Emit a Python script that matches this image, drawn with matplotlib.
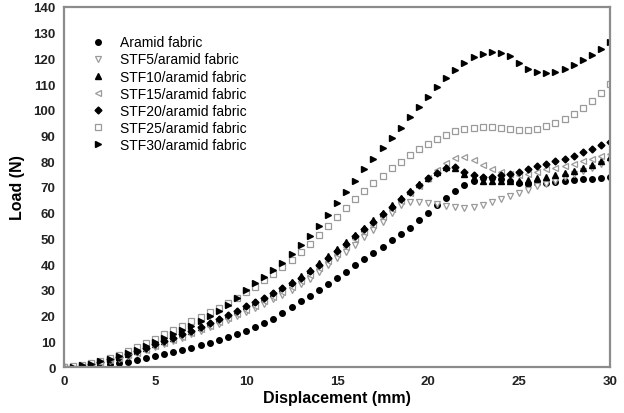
import numpy as np
import matplotlib
matplotlib.use('Agg')
import matplotlib.pyplot as plt

plt.rcParams['font.family'] = ['Liberation Sans', 'DejaVu Sans']

# displacement (mm), one point every 0.5 mm
disp = [i * 0.5 for i in range(61)]

aramid = [0, 0.1, 0.2, 0.4, 0.6, 1.0, 1.5, 2.1, 2.7, 3.4,
          4.1, 4.9, 5.7, 6.6, 7.5, 8.5, 9.5, 10.6, 11.7, 12.9,
          14.1, 15.5, 17.0, 18.8, 21.0, 23.3, 25.6, 27.8, 30.0, 32.3,
          34.6, 37.0, 39.5, 41.9, 44.3, 46.7, 49.2, 51.6, 54.2, 57.0,
          60.0, 63.0, 65.8, 68.5, 70.8, 72.5, 73.5, 73.5, 73.0, 72.2,
          71.4, 71.2, 71.4, 71.7, 72.0, 72.3, 72.6, 72.9, 73.2, 73.5, 73.8]

stf5 = [0, 0.1, 0.4, 0.9, 1.5, 2.4, 3.3, 4.3, 5.4, 6.5,
        7.7, 8.9, 10.1, 11.4, 12.7, 14.1, 15.5, 16.9, 18.4, 19.9,
        21.5, 23.0, 24.6, 26.3, 28.1, 30.0, 32.1, 34.4, 36.9, 39.5,
        42.2, 44.9, 47.6, 50.4, 53.2, 56.5, 60.0, 63.0, 64.0, 64.2,
        63.8, 63.2, 62.6, 62.2, 62.0, 62.3, 63.0, 64.0, 65.2, 66.4,
        67.7, 69.0, 70.2, 71.3, 72.5, 73.7, 75.0, 76.3, 77.5, 78.8, 80.0]

stf10 = [0, 0.2, 0.6, 1.2, 2.0, 3.0, 4.0, 5.1, 6.3, 7.5,
         8.8, 10.1, 11.4, 12.8, 14.2, 15.7, 17.2, 18.7, 20.3, 21.9,
         23.6, 25.2, 26.9, 28.8, 30.8, 32.9, 35.2, 37.7, 40.3, 43.0,
         45.8, 48.5, 51.3, 54.1, 57.0, 59.9, 62.8, 65.7, 68.5, 71.2,
         73.6, 75.8, 77.6, 77.5, 75.0, 73.5, 72.5, 72.2, 72.2, 72.3,
         72.5, 72.8, 73.3, 74.0, 74.7, 75.4, 76.2, 77.3, 78.5, 80.0, 81.5]

stf15 = [0, 0.2, 0.5, 1.0, 1.7, 2.6, 3.5, 4.5, 5.6, 6.8,
         8.0, 9.2, 10.5, 11.8, 13.2, 14.6, 16.0, 17.5, 19.0, 20.6,
         22.2, 23.8, 25.5, 27.3, 29.2, 31.2, 33.4, 35.8, 38.4, 41.1,
         43.9, 46.7, 49.6, 52.5, 55.4, 58.4, 61.3, 64.4, 67.5, 70.5,
         73.5, 76.5, 79.5, 81.3, 81.5, 80.5, 78.5, 77.0, 75.8, 75.0,
         74.8, 75.2, 76.0, 76.8, 77.5, 78.2, 79.0, 80.0, 81.0, 82.0, 83.0]

stf20 = [0, 0.2, 0.6, 1.2, 2.0, 3.0, 4.0, 5.1, 6.3, 7.5,
         8.8, 10.1, 11.4, 12.8, 14.2, 15.7, 17.2, 18.7, 20.3, 21.9,
         23.6, 25.2, 26.9, 28.7, 30.6, 32.6, 34.8, 37.2, 39.8, 42.5,
         45.3, 48.0, 50.8, 53.6, 56.5, 59.4, 62.3, 65.2, 68.0, 70.8,
         73.3, 75.6, 77.5, 77.8, 76.0, 74.5, 74.0, 74.0, 74.5, 75.2,
         76.0, 77.0, 78.0, 79.0, 80.0, 81.0, 82.2, 83.4, 84.8, 86.2, 87.5]

stf25 = [0, 0.3, 0.8, 1.5, 2.4, 3.5, 4.8, 6.2, 7.7, 9.3,
         11.0, 12.7, 14.4, 16.1, 17.8, 19.5, 21.3, 23.1, 25.0, 27.0,
         29.0, 31.3, 33.7, 36.2, 38.8, 41.6, 44.6, 47.8, 51.2, 54.8,
         58.5, 62.0, 65.3, 68.5, 71.5, 74.4, 77.2, 79.8, 82.3, 84.6,
         86.7, 88.6, 90.3, 91.6, 92.6, 93.1, 93.3, 93.2, 92.9, 92.5,
         92.2, 92.2, 92.6, 93.5, 94.8, 96.5, 98.5, 100.8, 103.4, 106.5, 110.0]

stf30 = [0, 0.2, 0.7, 1.3, 2.2, 3.2, 4.3, 5.5, 6.8, 8.2,
         9.6, 11.1, 12.7, 14.3, 16.0, 17.8, 19.8, 21.9, 24.2, 26.8,
         30.0, 32.5, 35.0, 37.7, 40.6, 43.8, 47.3, 51.0, 55.0, 59.2,
         63.6, 68.0, 72.4, 76.8, 81.0, 85.0, 89.0, 93.0, 97.0, 101.0,
         105.0, 108.8, 112.3, 115.5, 118.3, 120.4, 121.8, 122.5, 122.2, 120.8,
         118.3, 115.8, 114.5, 114.3, 114.8, 116.0, 117.5, 119.3, 121.3, 123.7, 126.5]

labels = ['Aramid fabric', 'STF5/aramid fabric', 'STF10/aramid fabric',
          'STF15/aramid fabric', 'STF20/aramid fabric', 'STF25/aramid fabric',
          'STF30/aramid fabric']

fig = plt.figure(figsize=(6.24, 4.14), dpi=100)
ax = fig.add_axes([0.1026, 0.111, 0.875, 0.87])

grey = '#9a9a9a'
ax.plot(disp, aramid, 'o', ms=4, color='black', label=labels[0])
ax.plot(disp, stf5, 'v', ms=4.5, mfc='white', mec=grey, mew=0.9, label=labels[1])
ax.plot(disp, stf10, '^', ms=4.5, color='black', label=labels[2])
ax.plot(disp, stf15, '<', ms=4.5, mfc='white', mec=grey, mew=0.9, label=labels[3])
ax.plot(disp, stf20, 'D', ms=3.5, color='black', label=labels[4])
ax.plot(disp, stf25, 's', ms=4.2, mfc='white', mec=grey, mew=0.9, label=labels[5])
ax.plot(disp, stf30, '>', ms=4.5, color='black', label=labels[6])

ax.set_xlim(0, 30)
ax.set_ylim(0, 140)
ax.set_xticks(range(0, 31, 5))
ax.set_yticks(range(0, 141, 10))
ax.tick_params(length=0, labelsize=9.5, pad=6, colors='#222222')
for t in ax.get_xticklabels() + ax.get_yticklabels():
    t.set_fontweight('bold')
for s in ax.spines.values():
    s.set_color('#8c8c8c')
    s.set_linewidth(1.6)

ax.set_xlabel('Displacement (mm)', fontsize=11.5, fontweight='bold', labelpad=2)
ax.set_ylabel('Load (N)', fontsize=11.5, fontweight='bold', labelpad=6)

ax.legend(loc='upper left', bbox_to_anchor=(0.035, 0.94), frameon=False,
          fontsize=10, handletextpad=0.95, labelspacing=0.22, borderpad=0,
          handlelength=1.2, numpoints=1)

fig.savefig('out.png', dpi=100)
